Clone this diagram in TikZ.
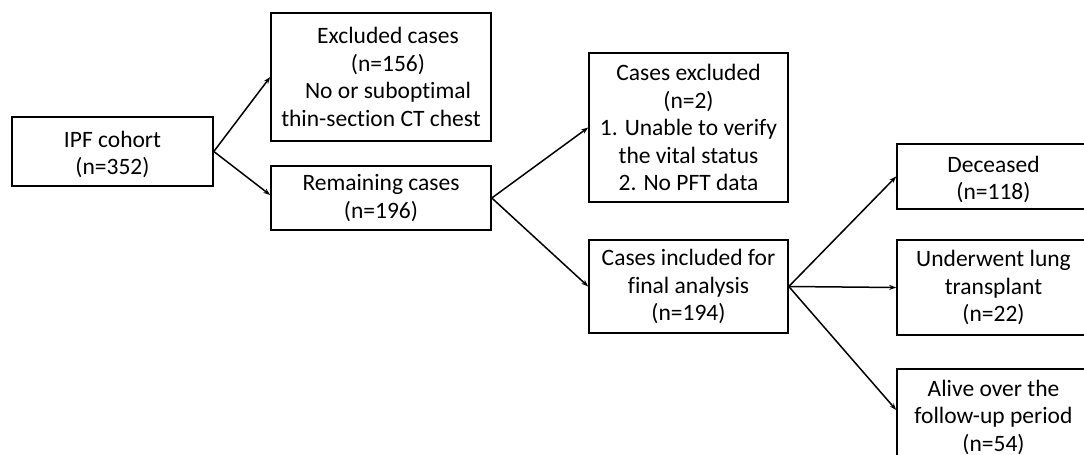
\documentclass[tikz,border=0pt]{standalone}
\usepackage{fontspec}
\setmainfont[Ligatures=NoCommon]{Carlito}
\usetikzlibrary{arrows.meta,calc}
\begin{document}
\begin{tikzpicture}[x=1pt,y=-1pt,
  box/.style={draw=black,line width=1.6pt,align=center,inner sep=0pt,
    font=\fontsize{23.5}{27.5}\selectfont},
  txt/.style={align=center,inner sep=0pt,font=\fontsize{23.5}{27.5}\selectfont},
  conn/.style={line width=1.5pt,-{Stealth[length=7pt,width=5pt]}}]
\useasboundingbox (0,0) rectangle (1084,455);
\clip (0,0) rectangle (1084,455);
\node[box,minimum width=201pt,minimum height=69pt] (ipf) at (112.5,151.5) {};
\node[txt] (ipft) at ([yshift=-3pt]ipf.center) {IPF cohort\\(n=352)};
\node[box,minimum width=220pt,minimum height=128pt] (excl) at (381,77) {\hspace*{14pt}Excluded cases\\\hspace*{14pt}(n=156)\\\hspace*{14pt}No or suboptimal\\thin-section CT chest};
\node[box,minimum width=220pt,minimum height=64pt] (rem) at (381,198) {Remaining cases\\(n=196)};
\node[box,minimum width=199pt,minimum height=149pt] (cexcl) at (688.5,127.5) {Cases excluded\\(n=2)\\1. Unable to verify\\the vital status\\2. No PFT data};
\node[box,minimum width=199pt,minimum height=93pt] (incl) at (688.5,286.5) {Cases included for\\final analysis\\(n=194)};
\node[box,minimum width=193pt,minimum height=65pt] (dec) at (993.5,176.5) {};
\node[txt] (dect) at ([yshift=-3pt]dec.center) {Deceased\\(n=118)};
\node[box,minimum width=193pt,minimum height=95pt] (lung) at (993.5,287.5) {Underwent lung\\transplant\\(n=22)};
\node[box,minimum width=193pt,minimum height=96pt] (alive) at (993.5,417) {Alive over the\\follow-up period\\(n=54)};
\draw[conn] (ipf.east) -- (excl.west);
\draw[conn] (ipf.east) -- ([yshift=3pt]rem.west);
\draw[conn] (rem.east) -- (cexcl.west);
\draw[conn] (rem.east) -- (incl.west);
\draw[conn] (incl.east) -- (dec.west);
\draw[conn] (incl.east) -- (lung.west);
\draw[conn] (incl.east) -- ([yshift=7pt]alive.west);
\end{tikzpicture}
\end{document}
